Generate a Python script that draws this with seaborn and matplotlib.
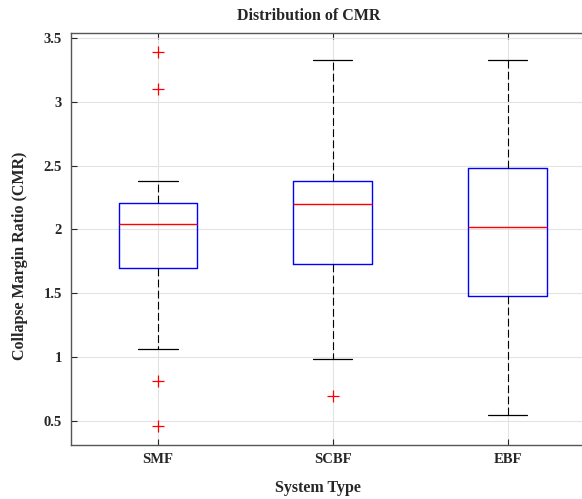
import pandas as pd
import seaborn as sns
import matplotlib.pyplot as plt

# values estimated off the reference chart (sample points chosen to give the same box stats)
system_types = ['SMF', 'SCBF', 'EBF']
smf_cmr = [0.456, 0.814, 1.062, 1.697, 1.82, 1.95, 2.046, 2.10, 2.16, 2.210, 2.380, 3.103, 3.393]
scbf_cmr = [0.691, 0.984, 1.728, 1.95, 2.200, 2.30, 2.380, 2.80, 3.330]
ebf_cmr = [0.546, 1.10, 1.477, 1.75, 2.018, 2.25, 2.480, 2.90, 3.330]
y_ticks = [0.5, 1, 1.5, 2, 2.5, 3, 3.5]
y_tick_labels = ['0.5', '1', '1.5', '2', '2.5', '3', '3.5']

df = pd.DataFrame({
    'System Type': ['SMF'] * len(smf_cmr) + ['SCBF'] * len(scbf_cmr) + ['EBF'] * len(ebf_cmr),
    'CMR': smf_cmr + scbf_cmr + ebf_cmr,
})

sns.set_style('ticks')
plt.rcParams['font.family'] = ['Liberation Serif', 'DejaVu Serif']
plt.rcParams['font.weight'] = 'bold'

fig = plt.figure(figsize=(5.82, 4.99), dpi=100)
# axes runs past the right edge on purpose (the reference is cropped there)
ax = fig.add_axes([70.5 / 582, 54 / 499, 524.5 / 582, 412 / 499])

sns.boxplot(data=df, x='System Type', y='CMR', order=system_types, ax=ax,
            width=0.45, fill=False, color='blue', whis=1.5,
            boxprops=dict(color='blue', linewidth=1.0),
            medianprops=dict(color='red', linewidth=1.0),
            whiskerprops=dict(color='black', linewidth=0.8, linestyle=(0, (7, 3))),
            capprops=dict(color='black', linewidth=0.9),
            flierprops=dict(marker='+', markeredgecolor='red', markerfacecolor='red',
                            markersize=8, markeredgewidth=0.9, linestyle='none'))

ax.set_xlim(-0.5, 2.5)
ax.set_ylim(0.31, 3.54)
ax.set_yticks(y_ticks)
ax.set_yticklabels(y_tick_labels)
ax.set_axisbelow(True)
ax.grid(True, color='#e3e3e3', linewidth=0.8)
ax.tick_params(direction='in', top=True, right=True, length=4, width=0.8,
               colors='#262626', labelsize=10.5, pad=6)
for lab in ax.get_xticklabels() + ax.get_yticklabels():
    lab.set_fontweight('bold')
for sp in ax.spines.values():
    sp.set_color('#555555')
    sp.set_linewidth(1.0)

ax.set_title('Distribution of CMR', fontsize=11.5, fontweight='bold', x=0.454, y=1.0, pad=9)
ax.set_xlabel('System Type', fontsize=11.5, fontweight='bold', va='center')
ax.xaxis.set_label_coords(0.471, -0.104)
ax.set_ylabel('Collapse Margin Ratio (CMR)', fontsize=11.5, fontweight='bold', va='center')
ax.yaxis.set_label_coords(-0.0963, 0.459)

fig.savefig('out.png', dpi=100)
